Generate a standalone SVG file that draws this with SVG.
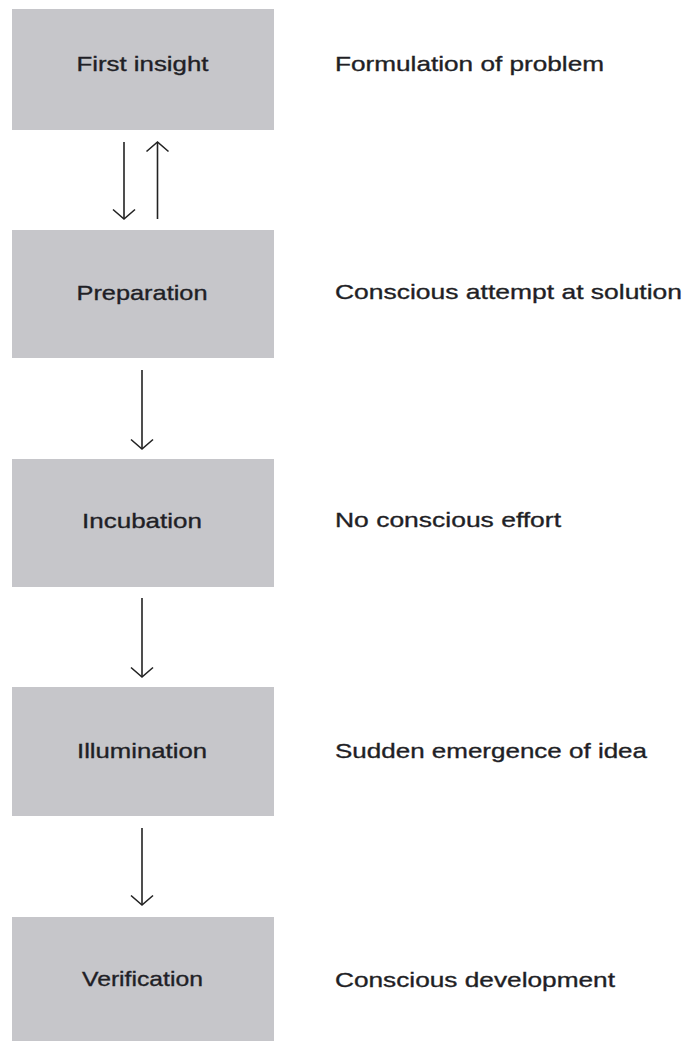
<svg xmlns="http://www.w3.org/2000/svg" width="685" height="1041" viewBox="0 0 685 1041">
  <defs>
    <style>
      .box { fill: #c6c6ca; }
      .lbl { font-family: "Liberation Sans", Arial, sans-serif; font-size: 21px; fill: #1f1f26; stroke: #1f1f26; stroke-width: 0.35px; }
      .mid { text-anchor: middle; }
      .edge { stroke: #222; stroke-width: 1.6; fill: none; marker-end: url(#chev); }
    </style>
    <marker id="chev" markerUnits="userSpaceOnUse" markerWidth="30" markerHeight="30" viewBox="-15 -15 30 30" refX="0" refY="0" orient="auto" overflow="visible">
      <path d="M-9.5,-11 L0,0 L-9.5,11" fill="none" stroke="#222" stroke-width="1.6"/>
    </marker>
  </defs>

  <rect width="685" height="1041" fill="#ffffff"/>

  <g id="first-insight">
    <rect class="box" x="12" y="9" width="262" height="121"/>
    <text class="lbl mid" x="142.5" y="71" textLength="132" lengthAdjust="spacingAndGlyphs">First insight</text>
    <text class="lbl" x="335" y="71" textLength="269" lengthAdjust="spacingAndGlyphs">Formulation of problem</text>
  </g>

  <g id="preparation">
    <rect class="box" x="12" y="230" width="262" height="128"/>
    <text class="lbl mid" x="142" y="300" textLength="131" lengthAdjust="spacingAndGlyphs">Preparation</text>
    <text class="lbl" x="335" y="299" textLength="347" lengthAdjust="spacingAndGlyphs">Conscious attempt at solution</text>
  </g>

  <g id="incubation">
    <rect class="box" x="12" y="459" width="262" height="128"/>
    <text class="lbl mid" x="142" y="528" textLength="120" lengthAdjust="spacingAndGlyphs">Incubation</text>
    <text class="lbl" x="335" y="527" textLength="226" lengthAdjust="spacingAndGlyphs">No conscious effort</text>
  </g>

  <g id="illumination">
    <rect class="box" x="12" y="687" width="262" height="129"/>
    <text class="lbl mid" x="142" y="758" textLength="130" lengthAdjust="spacingAndGlyphs">Illumination</text>
    <text class="lbl" x="335" y="758" textLength="312" lengthAdjust="spacingAndGlyphs">Sudden emergence of idea</text>
  </g>

  <g id="verification">
    <rect class="box" x="12" y="917" width="262" height="130"/>
    <text class="lbl mid" x="142.5" y="986" textLength="121" lengthAdjust="spacingAndGlyphs">Verification</text>
    <text class="lbl" x="335" y="987" textLength="280" lengthAdjust="spacingAndGlyphs">Conscious development</text>
  </g>

  <g id="connectors">
    <line class="edge" x1="124" y1="142" x2="124" y2="219"/>
    <line class="edge" x1="157.5" y1="219" x2="157.5" y2="142"/>
    <line class="edge" x1="142" y1="370" x2="142" y2="449"/>
    <line class="edge" x1="142" y1="598" x2="142" y2="677"/>
    <line class="edge" x1="142" y1="828" x2="142" y2="905"/>
  </g>
</svg>
